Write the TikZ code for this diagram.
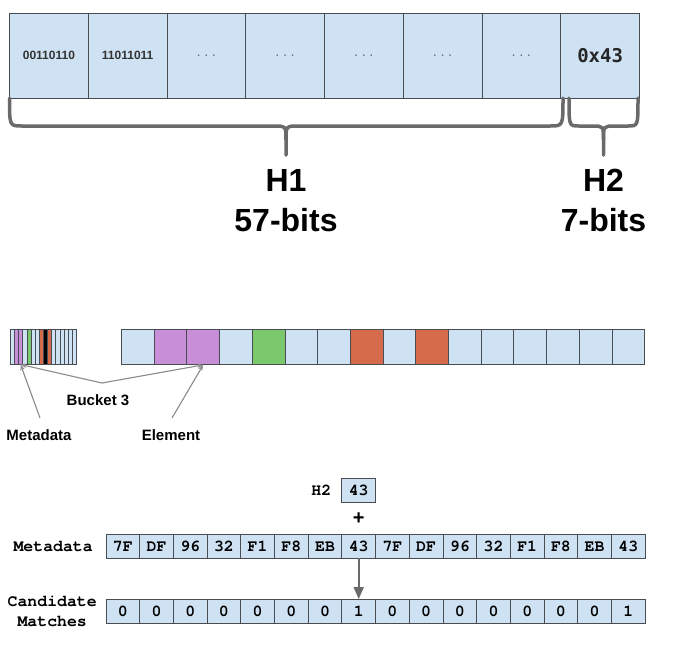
\documentclass[tikz,border=0pt]{standalone}
\usepackage{fontspec}
\setmainfont{Liberation Sans}
\setmonofont{TeX Gyre Cursor}
\newfontfamily\hexfont{DejaVu Sans Mono}
\usepackage{tikz}
\usetikzlibrary{arrows.meta,positioning,calc}
\definecolor{cellblue}{HTML}{CFE2F3}
\definecolor{celledge}{HTML}{484D54}
\definecolor{slotpurple}{HTML}{C88ED8}
\definecolor{slotgreen}{HTML}{7CC86C}
\definecolor{slotorange}{HTML}{D56B4A}
\definecolor{bracegray}{HTML}{6A6A6A}
\definecolor{pointgray}{HTML}{8A8A8A}

\begin{document}
\begin{tikzpicture}[x=1pt,y=-1pt,
  hashcell/.style={draw=celledge,fill=cellblue,line width=1.1pt,minimum width=78.75pt,
    minimum height=85.5pt,inner sep=0pt,anchor=north west},
  brace/.style={draw=bracegray,line width=3.5pt,line cap=round},
  bigtext/.style={font=\fontsize{32}{36}\selectfont\bfseries},
  strip/.style={draw=celledge,line width=0.5pt,minimum width=4.125pt,minimum height=35pt,
    inner sep=0pt,anchor=north west},
  slot/.style={draw=celledge,line width=0.9pt,minimum width=32.7pt,minimum height=35pt,
    inner sep=0pt,anchor=north west},
  lbl/.style={font=\fontsize{15}{17}\selectfont\bfseries},
  pointer/.style={draw=pointgray,line width=1.1pt,-{Stealth[length=6pt,width=4.5pt]}},
  ctrl/.style={draw=celledge,fill=cellblue,line width=0.9pt,minimum width=33.7pt,
    minimum height=23.5pt,inner sep=0pt,anchor=north west,font=\fontsize{16.5}{18}\selectfont\ttfamily\bfseries},
  mono/.style={font=\fontsize{16.5}{20}\selectfont\ttfamily\bfseries,inner sep=0pt}]
  \useasboundingbox (0,0) rectangle (673,649);

  % the 64-bit hash
  \node[hashcell,font=\fontsize{12}{12}\selectfont\bfseries,text=black!80] (hc1) at (9,12.5) {00110110};
  \node[hashcell,font=\fontsize{12}{12}\selectfont\bfseries,text=black!80] (hc2) at (87.75,12.5) {11011011};
  \foreach \i in {3,...,7}
    \node[hashcell,font=\fontsize{11}{12}\selectfont\hexfont,text=black!55] (hc\i) at ({9+78.75*(\i-1)},12.5) {.\hspace{1pt}.\hspace{1pt}.};
  \node[hashcell,font=\fontsize{19}{22}\selectfont\hexfont\bfseries,text=black!85] (hc8) at (560.25,12.5) {0x43};

  \draw[brace] (9.5,98) .. controls (9.5,126) .. (22,126) -- (273,126) .. controls (286,126) .. (286,140) -- (286,155);
  \draw[brace] (563,98) .. controls (563,126) .. (550,126) -- (299,126) .. controls (286,126) .. (286,140);
  \draw[brace] (569,98) .. controls (569,126) .. (579,126) -- (592,126) .. controls (603.5,126) .. (603.5,140) -- (603.5,155);
  \draw[brace] (638,98) .. controls (638,126) .. (628,126) -- (615,126) .. controls (603.5,126) .. (603.5,140);

  \node[bigtext] (h1) at (286,180) {H1};
  \node[bigtext] (h1bits) at (286,220) {57-bits};
  \node[bigtext] (h2) at (603.5,180) {H2};
  \node[bigtext] (h2bits) at (603.5,220) {7-bits};

  % control bytes and slots of the table
  \foreach \c [count=\i] in {cellblue,slotpurple,slotpurple,cellblue,slotgreen,cellblue,cellblue,slotorange,
      black,slotorange,cellblue,cellblue,cellblue,cellblue,cellblue,cellblue}
    \node[strip,fill=\c] (s\i) at ({10+4.125*(\i-1)},329) {};
  \foreach \c [count=\i] in {cellblue,slotpurple,slotpurple,cellblue,slotgreen,cellblue,cellblue,slotorange,
      cellblue,slotorange,cellblue,cellblue,cellblue,cellblue,cellblue,cellblue}
    \node[slot,fill=\c] (b\i) at ({121+32.7*(\i-1)},329) {};

  \node[lbl] (bucket) at (98,400) {Bucket 3};
  \node[lbl] (metalbl) at (39,435) {Metadata};
  \node[lbl] (elemlbl) at (171,435) {Element};
  \coordinate (apex) at (102,383);
  \coordinate (metatail) at (40,418);
  \coordinate (elemtail) at (172,418);
  \draw[pointer] (apex) -- (s3.south);
  \draw[pointer] (apex) -- (b3.south);
  \draw[pointer] (metatail) -- (s3.south);
  \draw[pointer] (elemtail) -- (b3.south);

  % probing the group with H2
  \foreach \v [count=\i] in {7F,DF,96,32,F1,F8,EB,43,7F,DF,96,32,F1,F8,EB,43}
    \node[ctrl] (m\i) at ({105.5+33.7*(\i-1)},534) {\v};
  \foreach \v [count=\i] in {0,0,0,0,0,0,0,1,0,0,0,0,0,0,0,1}
    \node[ctrl] (c\i) at ({105.5+33.7*(\i-1)},599) {\v};
  \node[ctrl] (h2box) at (341.4,478) {43};
  \node[mono,left=10pt of h2box] (h2lbl) {H2};
  \node[font=\fontsize{20}{20}\selectfont\bfseries,inner sep=0pt] (plus) at ($(h2box.south)!0.5!(m8.north)$) {+};
  \node[mono,left=12.5pt of m1] (metarow) {Metadata};
  \node[mono,align=center,left=8.5pt of c1] (candrow) {Candidate\\Matches};
  \draw[draw=bracegray,line width=2pt,-{Triangle[length=12pt,width=10pt]}] (m8.south) -- (c8.north);
\end{tikzpicture}
\end{document}
